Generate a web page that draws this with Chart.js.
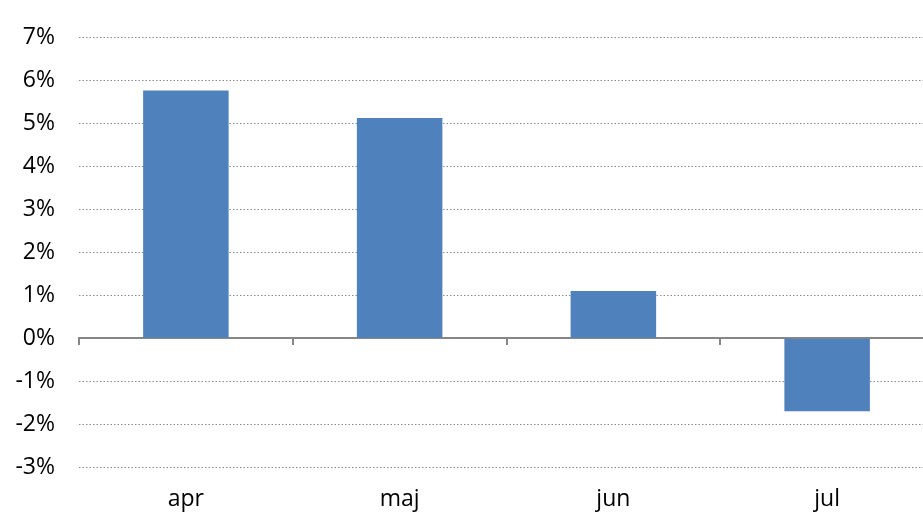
<!DOCTYPE html>
<html>
<head>
<meta charset="utf-8">
<script src="https://cdn.jsdelivr.net/npm/chart.js@4.4.0/dist/chart.umd.min.js"></script>
<style>
  html, body { margin: 0; padding: 0; background: #fff; overflow: hidden; }
  #wrap { width: 923px; height: 513px; overflow: hidden; }
</style>
</head>
<body>
<div id="wrap"><canvas id="myChart" width="934" height="513"></canvas></div>
<script>
// months and monthly change (%)
let months = ['apr', 'maj', 'jun', 'jul'];
let change = [5.77, 5.13, 1.1, -1.7];
let yMin = -3;
let yMax = 7;

let font = { family: "'Open Sans', sans-serif", size: 23 };

new Chart("myChart", {
    type: "bar",
    data: {
        labels: months,
        datasets: [{
            data: change,
            backgroundColor: "#4f81bd",
            barPercentage: 0.4,
            categoryPercentage: 1
        }]
    },
    options: {
        responsive: false,
        animation: false,
        layout: { padding: { top: 33, right: 0, left: 0, bottom: 0 } },
        plugins: {
            legend: { display: false },
            tooltip: { enabled: false }
        },
        scales: {
            y: {
                min: yMin,
                max: yMax,
                afterFit: s => { s.width = 79; },
                ticks: {
                    stepSize: 1,
                    padding: 24,
                    color: "#000",
                    font: font,
                    callback: v => v + "%"
                },
                grid: {
                    drawTicks: false,
                    color: "#8c8c8c",
                    lineWidth: 1
                },
                border: {
                    display: false,
                    dash: ctx => (ctx.tick && ctx.tick.value === 0) ? [] : [1.5, 2],
                }
            },
            x: {
                afterFit: s => { s.height = 46; },
                ticks: { color: "#000", font: font, padding: 19 },
                grid: { display: false, drawTicks: false },
                border: { display: false }
            },
            x0: {
                type: "category",
                position: { y: 0 },
                labels: months,
                ticks: { display: false },
                grid: {
                    offset: true,
                    drawOnChartArea: false,
                    drawTicks: true,
                    tickLength: 6,
                    color: "#868686",
                    lineWidth: 2
                },
                border: { display: true, color: "#868686", width: 2 }
            }
        }
    }
});
</script>
</body>
</html>
